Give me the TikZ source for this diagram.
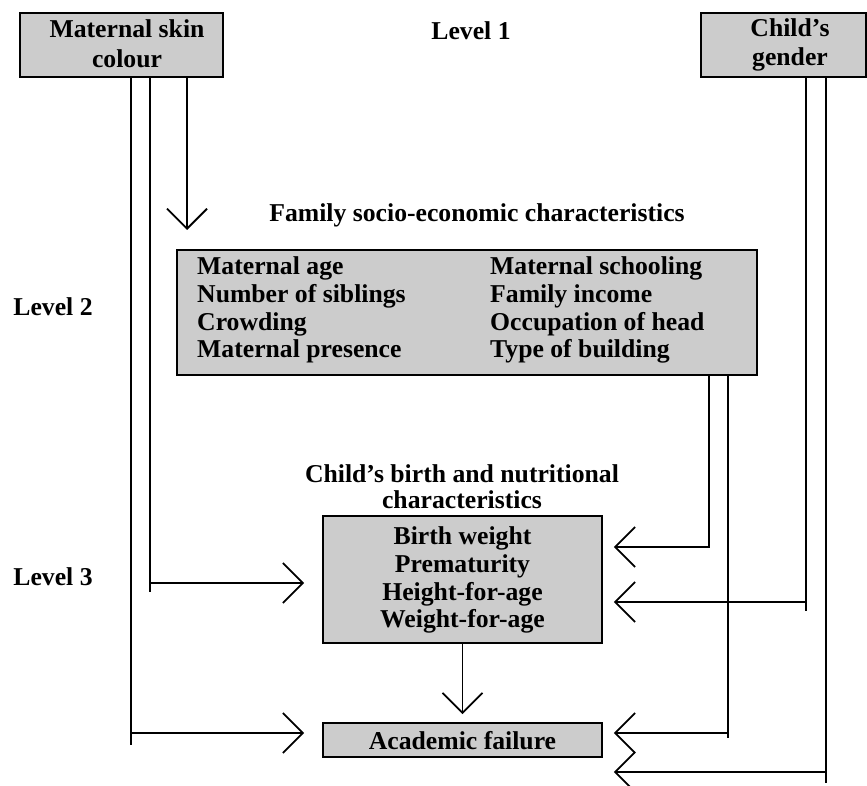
\documentclass[tikz,border=0pt]{standalone}
\usepackage{fontspec}
\setmainfont{Liberation Serif}
\usetikzlibrary{arrows.meta}
\begin{document}
\begin{tikzpicture}[x=1pt,y=-1pt,
  box/.style={draw, line width=1.6pt, fill=black!20, inner sep=0pt},
  lbl/.style={font=\fontsize{25.7}{28}\selectfont\bfseries, inner sep=0pt},
  conn/.style={line width=1.8pt},
  arr/.style={line width=1.8pt, -{Straight Barb[length=20pt,width=40pt]}}]
\useasboundingbox (0,0) rectangle (867,786);
\fill[white] (0,0) rectangle (867,786);

% boxes
\node[box, minimum width=203pt, minimum height=64pt] (msc) at (121.5,45) {};
\node[box, minimum width=165pt, minimum height=64pt] (cg) at (783.5,45) {};
\node[box, minimum width=580pt, minimum height=125pt] (fam) at (467,312.5) {};
\node[box, minimum width=279pt, minimum height=127pt] (bir) at (462.5,579.5) {};
\node[box, minimum width=279pt, minimum height=34pt] (acf) at (462.5,740) {};

% box texts
\node[lbl, anchor=base] (msc1) at (127,38) {Maternal skin};
\node[lbl, anchor=base] (msc2) at (127,68) {colour};
\node[lbl, anchor=base] (cg1) at (790,37) {Child’s};
\node[lbl, anchor=base] (cg2) at (790,66) {gender};

\node[lbl, anchor=base west] (f1) at (197,275) {Maternal age};
\node[lbl, anchor=base west] (f2) at (197,302.5) {Number of siblings};
\node[lbl, anchor=base west] (f3) at (197,330) {Crowding};
\node[lbl, anchor=base west] (f4) at (197,357.5) {Maternal presence};
\node[lbl, anchor=base west] (f5) at (490,275) {Maternal schooling};
\node[lbl, anchor=base west] (f6) at (490,302.5) {Family income};
\node[lbl, anchor=base west] (f7) at (490,330) {Occupation of head};
\node[lbl, anchor=base west] (f8) at (490,357.5) {Type of building};

\node[lbl, anchor=base] (b1) at (462.5,544) {Birth weight};
\node[lbl, anchor=base] (b2) at (462.5,572) {Prematurity};
\node[lbl, anchor=base] (b3) at (462.5,600) {Height-for-age};
\node[lbl, anchor=base] (b4) at (462.5,627.5) {Weight-for-age};

\node[lbl, anchor=base] (a1) at (462.5,749) {Academic failure};

% free labels
\node[lbl, anchor=base] (lv1) at (471,40) {Level 1};
\node[lbl, anchor=base] (lv2) at (53,316) {Level 2};
\node[lbl, anchor=base] (lv3) at (53,585) {Level 3};
\node[lbl, anchor=base] (famlbl) at (477,222) {Family socio-economic characteristics};
\node[lbl, anchor=base] (birlbl1) at (462,482) {Child’s birth and nutritional};
\node[lbl, anchor=base] (birlbl2) at (462,508) {characteristics};

% helper coordinates
\coordinate (cA) at (131,0);
\coordinate (cB) at (150,0);
\coordinate (cC) at (187,0);
\coordinate (cD) at (709,0);
\coordinate (cE) at (728,0);
\coordinate (cF) at (806,0);
\coordinate (cG) at (826,0);
\coordinate (famtip) at (187,230);
\coordinate (ltipB) at ([xshift=-18pt]bir.west);
\coordinate (ltipA) at ([xshift=-18pt]acf.west);
\coordinate (rtip) at ([xshift=11pt]bir.east);
\coordinate (y583) at (0,583);
\coordinate (y733) at (0,733);
\coordinate (y547) at (0,547);
\coordinate (y602) at (0,602);
\coordinate (y772) at (0,772);
\coordinate (e592) at (0,592);
\coordinate (e745) at (0,745);
\coordinate (e611) at (0,611);
\coordinate (e738) at (0,738);
\coordinate (e783) at (0,783);

% Maternal skin colour connectors
\draw[arr] (msc.south -| famtip) -- (famtip);
\draw[conn] (msc.south -| cB) -- (cB |- e592);
\draw[arr] (cB |- y583) -- (ltipB |- y583);
\draw[conn] (msc.south -| cA) -- (cA |- e745);
\draw[arr] (cA |- y733) -- (ltipA |- y733);

% Family box connectors
\draw[arr] (fam.south -| cD) |- (rtip |- y547);
\draw[conn] (fam.south -| cE) -- (cE |- e738);
\draw[arr] (cE |- y733) -- (rtip |- y733);

% Child's gender connectors
\draw[conn] (cg.south -| cF) -- (cF |- e611);
\draw[arr] (cF |- y602) -- (rtip |- y602);
\draw[conn] (cg.south -| cG) -- (cG |- e783);
\draw[arr] (cG |- y772) -- (rtip |- y772);

% Birth -> academic failure
\draw[arr] (bir.south) -- ([yshift=8pt]acf.north);
\end{tikzpicture}
\end{document}
